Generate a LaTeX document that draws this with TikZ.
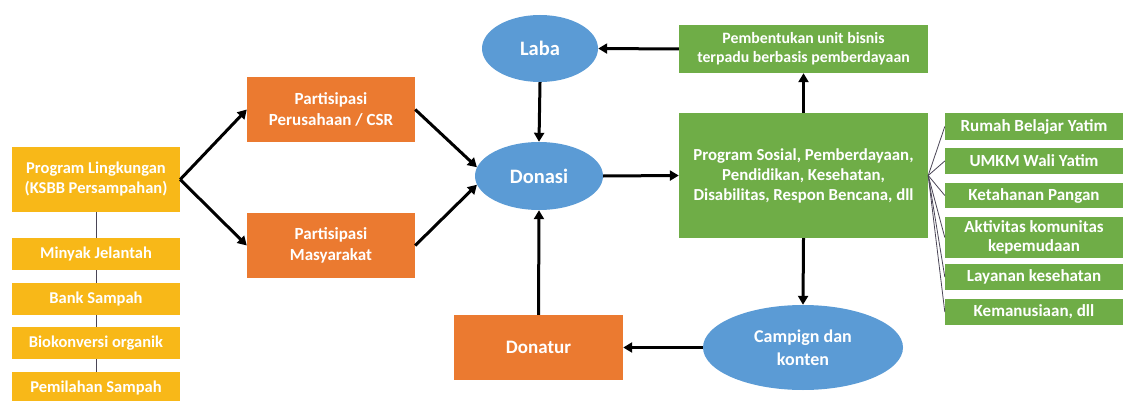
\documentclass[tikz,border=0pt]{standalone}
\usepackage{fontspec}
\setmainfont{Carlito}
\usetikzlibrary{arrows.meta,shapes.geometric}
\definecolor{cyel}{HTML}{F8B818}
\definecolor{cora}{HTML}{EB7A30}
\definecolor{cblu}{HTML}{5B9BD5}
\definecolor{cgrn}{HTML}{6FAD47}
\definecolor{cfan}{HTML}{4A4556}
\tikzset{
  base/.style={inner sep=0pt, align=center, text=white, font=\bfseries\fontsize{16.5}{20}\selectfont},
  ybox/.style={base, rectangle, fill=cyel, minimum width=168pt},
  obox/.style={base, rectangle, fill=cora, minimum width=168pt, minimum height=65pt, font=\bfseries\fontsize{17}{21}\selectfont},
  gbox/.style={base, rectangle, fill=cgrn},
  rbox/.style={base, rectangle, fill=cgrn, minimum width=178pt, font=\bfseries\fontsize{17}{19}\selectfont},
  bell/.style={base, ellipse, fill=cblu, font=\bfseries\fontsize{20.5}{24}\selectfont},
  arr/.style={line width=3pt, -{Triangle[length=9pt,width=10pt]}},
  thin/.style={line width=0.8pt, draw=cfan},
}
\begin{document}
\begin{tikzpicture}[x=1pt,y=-1pt]
\useasboundingbox (0,0) rectangle (1123,401);
\clip (0,0) rectangle (1123,401);
% left column
\node[ybox, minimum height=65pt] (ling) at (96,179.5) {Program Lingkungan\\(KSBB Persampahan)};
\node[ybox, minimum height=32pt] (minyak) at (96,254) {Minyak Jelantah};
\node[ybox, minimum height=32pt] (bank) at (96,299) {Bank Sampah};
\node[ybox, minimum height=32pt] (bio) at (96,343) {Biokonversi organik};
\node[ybox, minimum height=32pt] (pemil) at (96,388) {Pemilahan Sampah};
\draw[thin] (ling.south) -- (minyak.north);
\draw[thin] (minyak.south) -- (bank.north);
\draw[thin] (bank.south) -- (bio.north);
\draw[thin] (bio.south) -- (pemil.north);
% orange participation
\node[obox] (csr) at (331,109.5) {Partisipasi\\Perusahaan / CSR};
\node[obox] (mas) at (331,245.5) {Partisipasi\\Masyarakat};
% ellipses
\node[bell, minimum width=116pt, minimum height=67pt] (laba) at (540,48.5) {Laba};
\node[bell, minimum width=128pt, minimum height=68pt] (donasi) at (539,176) {Donasi};
\node[bell, minimum width=200pt, minimum height=85pt, font=\bfseries\fontsize{18}{23}\selectfont] (camp) at (803,347.5) {Campign dan\\konten};
% donatur
\node[base, rectangle, fill=cora, minimum width=169pt, minimum height=65pt, font=\bfseries\fontsize{19}{22}\selectfont] (donatur) at (538.5,347.5) {Donatur};
% green
\node[gbox, minimum width=249pt, minimum height=48pt, font=\bfseries\fontsize{15.8}{19}\selectfont] (unit) at (803.5,49) {Pembentukan unit bisnis\\terpadu berbasis pemberdayaan};
\node[gbox, minimum width=249pt, minimum height=125pt, font=\bfseries\fontsize{16.8}{20}\selectfont] (sos) at (803.5,175.5) {Program Sosial, Pemberdayaan,\\Pendidikan, Kesehatan,\\Disabilitas, Respon Bencana, dll};
% right list
\node[rbox, minimum height=27pt] (r1) at (1034,126.5) {Rumah Belajar Yatim};
\node[rbox, minimum height=26pt] (r2) at (1034,161) {UMKM Wali Yatim};
\node[rbox, minimum height=25pt] (r3) at (1034,195.5) {Ketahanan Pangan};
\node[rbox, minimum height=41pt] (r4) at (1034,237.5) {Aktivitas komunitas\\kepemudaan};
\node[rbox, minimum height=26pt] (r5) at (1034,277) {Layanan kesehatan};
\node[rbox, minimum height=26pt] (r6) at (1034,312) {Kemanusiaan, dll};
\foreach \r in {r1,r2,r3,r4,r5,r6} \draw[thin] (sos.east) -- (\r.west);
% arrows
\draw[arr] (ling.east) -- (csr.west);
\draw[arr] (ling.east) -- (mas.west);
\draw[arr] (csr.east) -- (donasi.172);
\draw[arr] (mas.east) -- (donasi.188);
\draw[arr] (laba.south) -- (donasi.north);
\draw[arr] (unit.west) -- (laba.east);
\draw[arr] (sos.north) -- (unit.south);
\draw[arr] (donasi.east) -- (sos.west);
\draw[arr] (sos.south) -- (camp.north);
\draw[arr] (camp.west) -- (donatur.east);
\draw[arr] (donatur.north) -- (donasi.south);
\end{tikzpicture}
\end{document}
